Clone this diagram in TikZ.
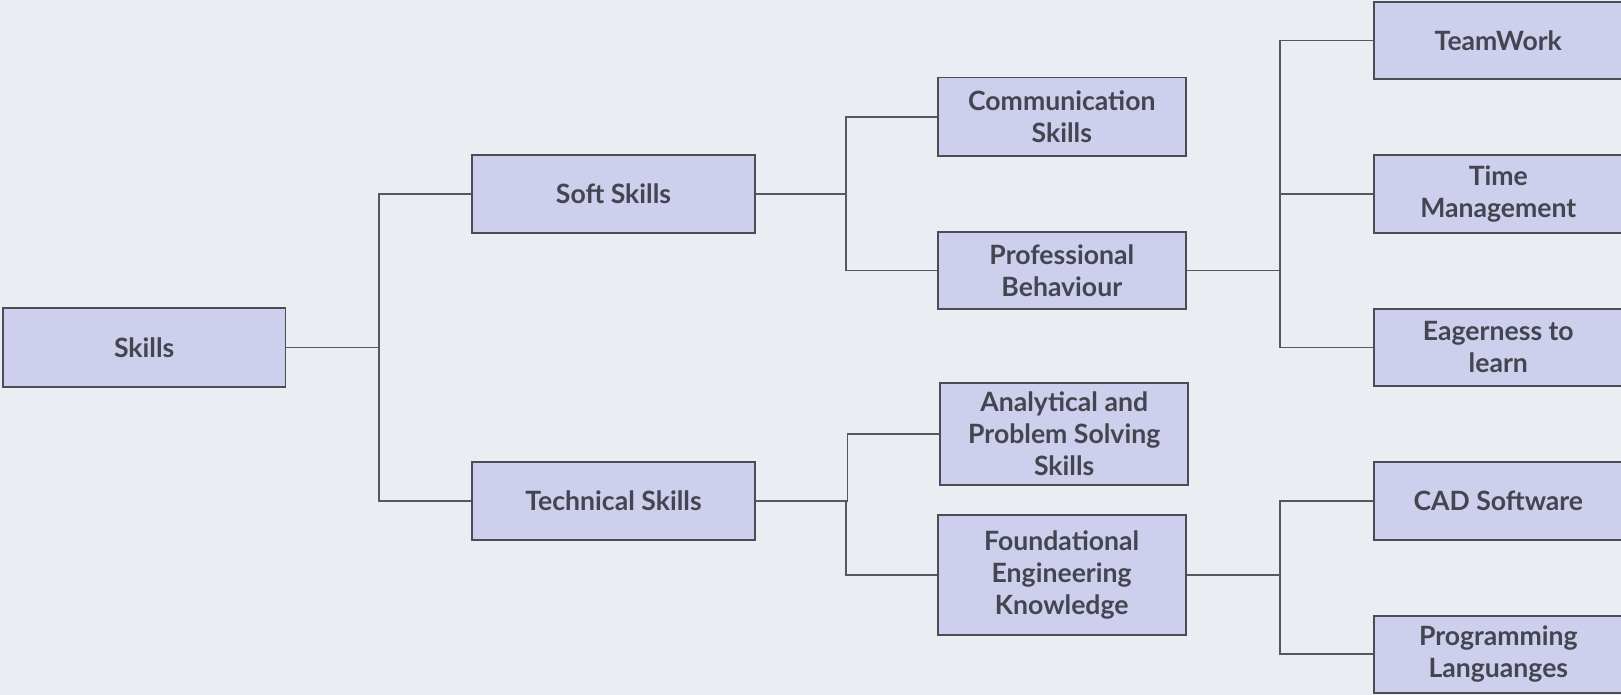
\documentclass[tikz,border=0pt]{standalone}
\usepackage{fontspec}
\setmainfont{Lato}
\usetikzlibrary{calc}
\definecolor{bg}{HTML}{EAEEF3}
\definecolor{boxfill}{HTML}{CDCFEC}
\definecolor{boxdraw}{HTML}{4A4D57}
\definecolor{txt}{HTML}{434650}
\definecolor{wire}{HTML}{55585F}
\tikzset{
  skillbox/.style={draw=boxdraw, fill=boxfill, line width=1.8pt, align=center,
    text=txt, font=\fontsize{26.6}{32}\selectfont\bfseries, inner sep=0pt},
  elbow/.style={draw=wire, line width=1.7pt,
    to path={-| ($(\tikztostart)!0.5!(\tikztotarget)$) |- (\tikztotarget)}}
}
\begin{document}
\begin{tikzpicture}[x=1pt,y=-1pt]
\fill[bg] (0,0) rectangle (1621,695);
\useasboundingbox (0,0) rectangle (1621,695);
\clip (0,0) rectangle (1621,695);
\node[skillbox, minimum width=282.6pt, minimum height=78.6pt] (skills) at (144.2,347.4) {Skills};
\node[skillbox, minimum width=282.3pt, minimum height=77.6pt] (soft) at (613.5,193.8) {Soft Skills};
\node[skillbox, minimum width=282.3pt, minimum height=77.6pt] (tech) at (613.5,500.8) {Technical Skills};
\node[skillbox, minimum width=248pt, minimum height=78.6pt] (comm) at (1061.8,116.8) {Communication\\Skills};
\node[skillbox, minimum width=248pt, minimum height=77.5pt] (prof) at (1061.8,270.4) {Professional\\Behaviour};
\node[skillbox, minimum width=248.3pt, minimum height=101.7pt] (anal) at (1064.2,434.2) {Analytical and\\Problem Solving\\Skills};
\node[skillbox, minimum width=248pt, minimum height=120pt] (found) at (1061.7,575) {Foundational\\Engineering\\Knowledge};
\node[skillbox, minimum width=248pt, minimum height=77.6pt] (team) at (1498.3,40.5) {TeamWork};
\node[skillbox, minimum width=248pt, minimum height=77.6pt] (time) at (1498.3,193.8) {Time\\Management};
\node[skillbox, minimum width=248pt, minimum height=77.6pt] (eager) at (1498.3,347.4) {Eagerness to\\learn};
\node[skillbox, minimum width=248pt, minimum height=77.6pt] (cad) at (1498.3,500.8) {CAD Software};
\node[skillbox, minimum width=248pt, minimum height=77pt] (prog) at (1498.3,654.2) {Programming\\Languanges};
\path (skills.east) edge[elbow] (soft.west)
      (skills.east) edge[elbow] (tech.west)
      (soft.east) edge[elbow] (comm.west)
      (soft.east) edge[elbow] (prof.west)
      (tech.east) edge[elbow] (anal.west)
      (tech.east) edge[elbow] (found.west)
      (prof.east) edge[elbow] (team.west)
      (prof.east) edge[elbow] (time.west)
      (prof.east) edge[elbow] (eager.west)
      (found.east) edge[elbow] (cad.west)
      (found.east) edge[elbow] (prog.west);
\end{tikzpicture}
\end{document}
